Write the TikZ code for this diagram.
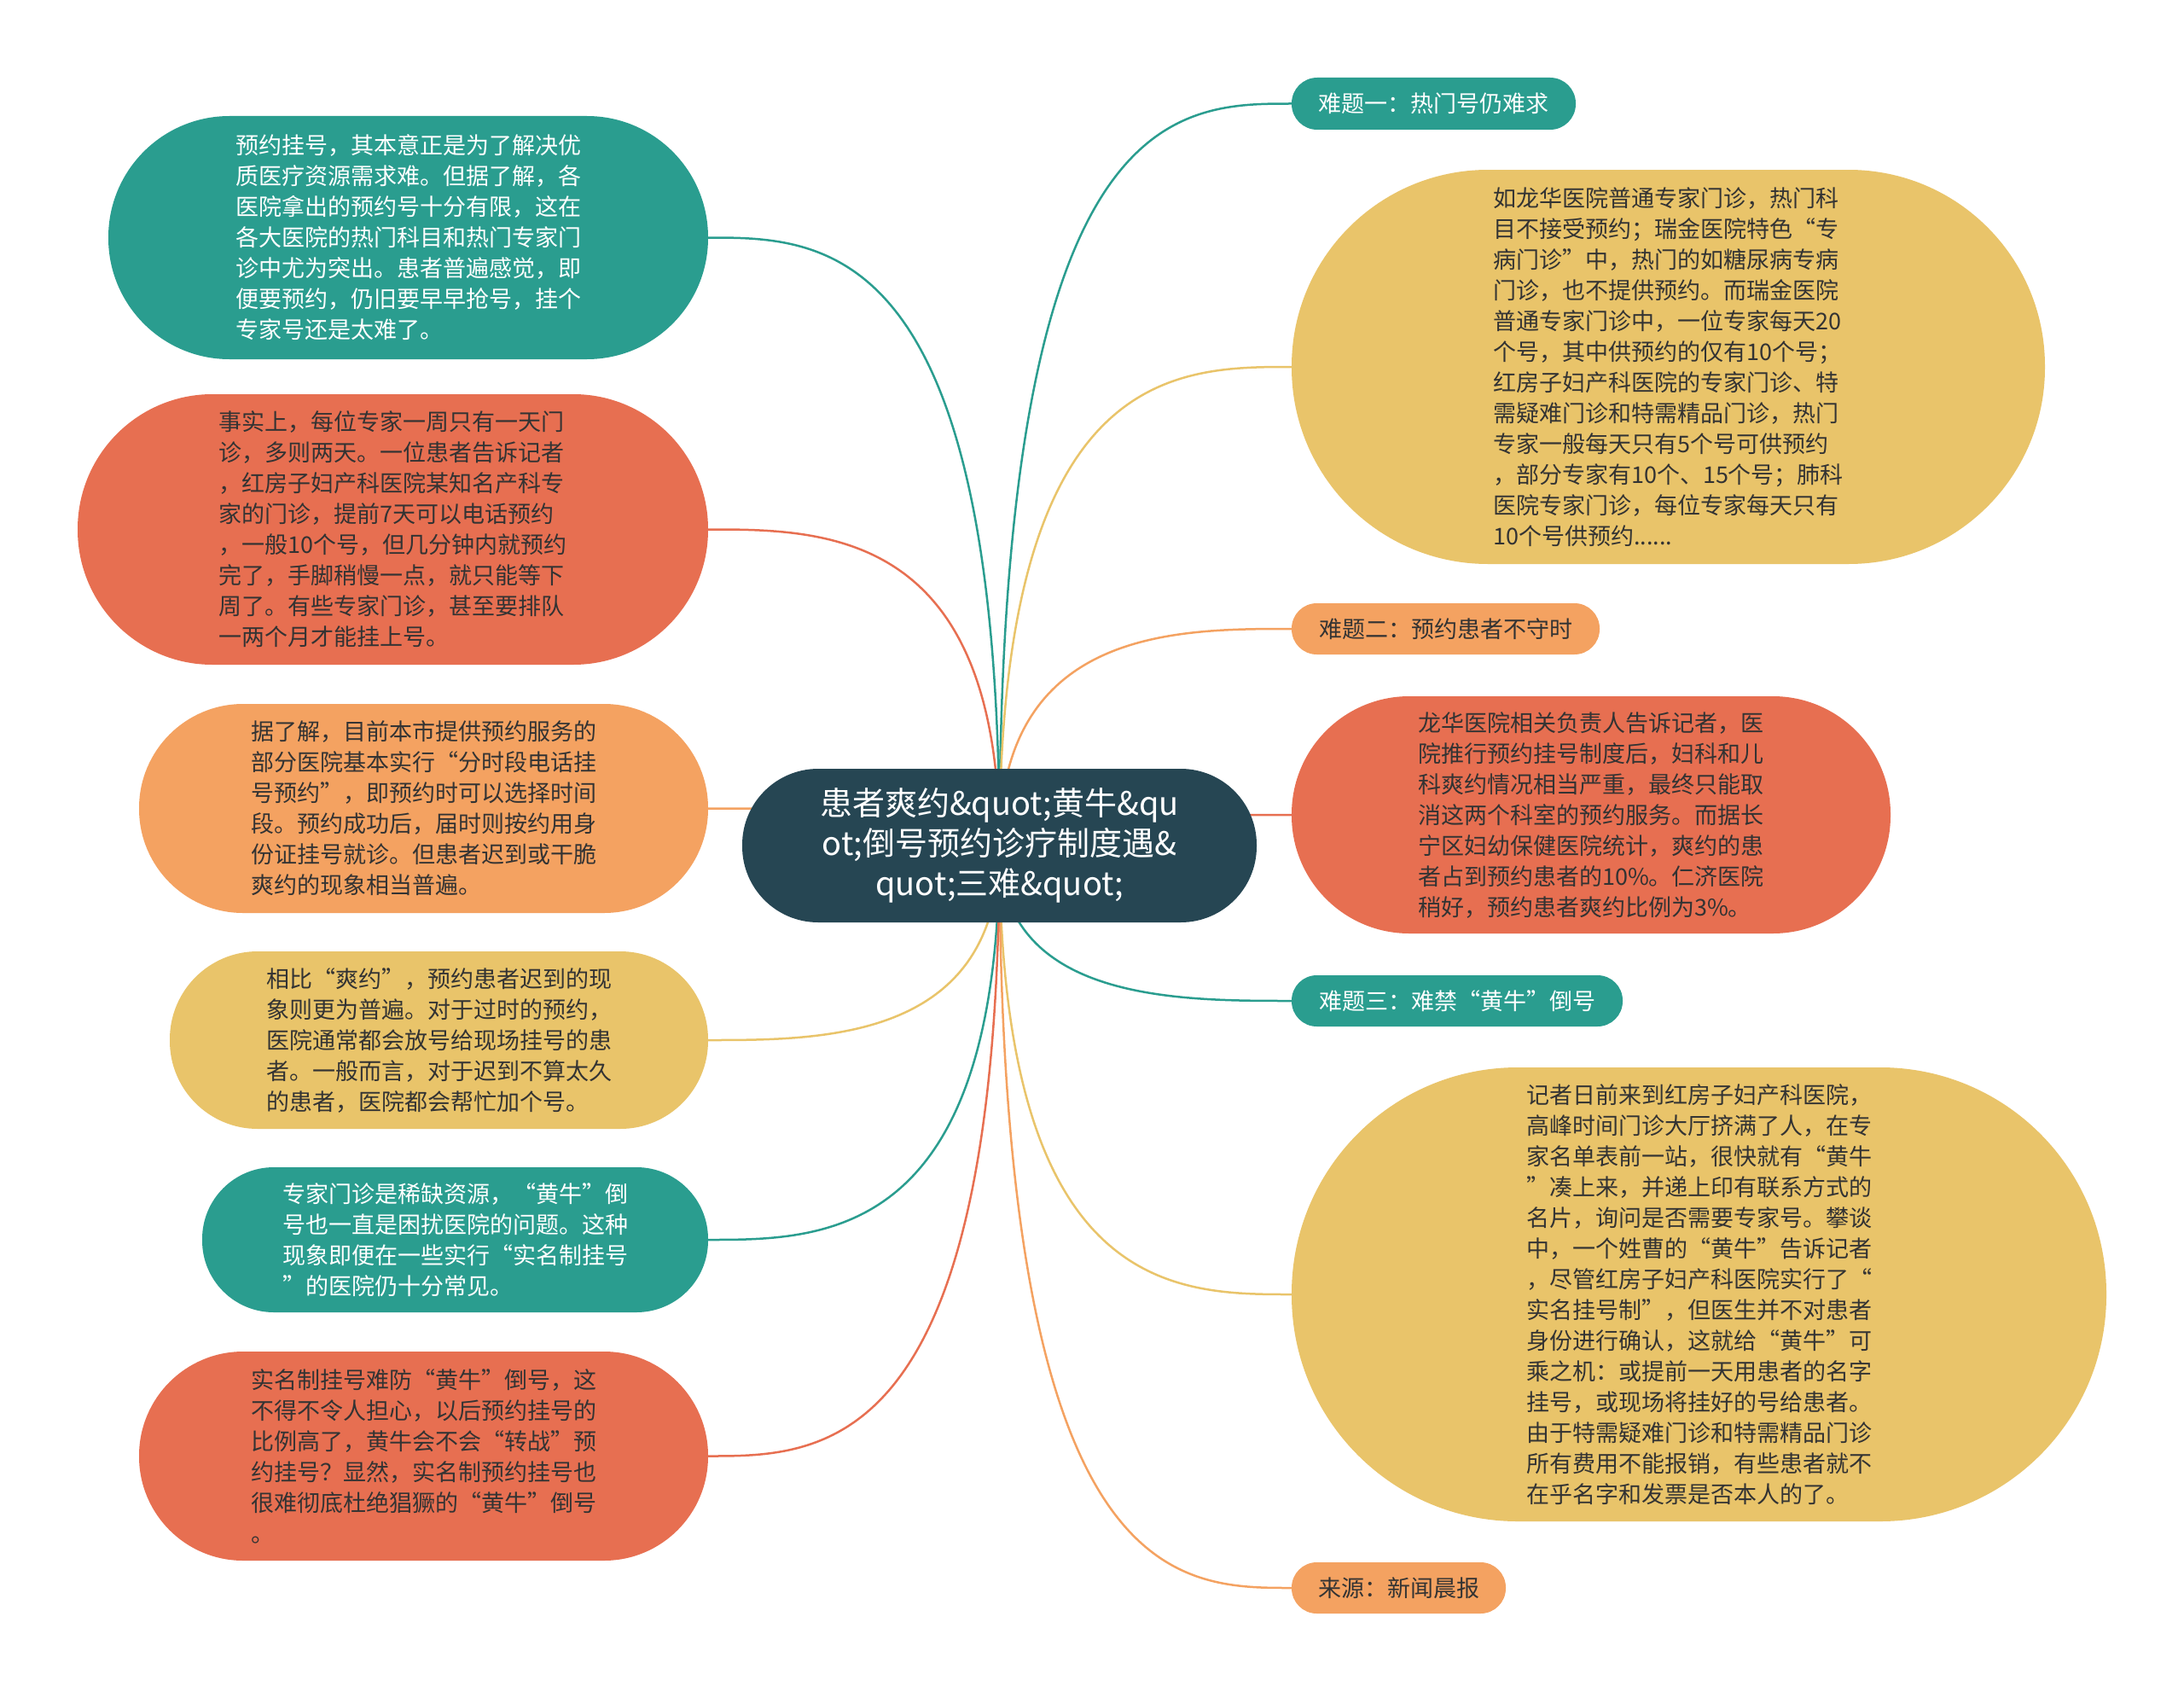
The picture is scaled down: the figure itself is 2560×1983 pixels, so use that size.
\documentclass[tikz,border=0pt]{standalone}
\usepackage{fontspec}
\setmainfont{Noto Sans CJK SC}
\usetikzlibrary{backgrounds,calc}
\definecolor{cteal}{HTML}{2A9D8F}
\definecolor{cyellow}{HTML}{E9C46A}
\definecolor{corange}{HTML}{F4A261}
\definecolor{cred}{HTML}{E76F51}
\definecolor{cdark}{HTML}{264653}
\definecolor{ctext}{HTML}{333333}
\newcommand{\linkto}[2]{\draw[link, #1] (C.center) .. controls (C.center |- #2) and ($(C.center |- #2)!0.6!(#2)$) .. (#2);}
\begin{document}
\begin{tikzpicture}[x=1pt,y=-1pt,
  box/.style={rectangle, inner sep=0pt, align=left, font=\fontsize{27}{36}\selectfont},
  tealbox/.style={box, fill=cteal, text=white},
  yellowbox/.style={box, fill=cyellow, text=ctext},
  orangebox/.style={box, fill=corange, text=ctext},
  redbox/.style={box, fill=cred, text=ctext},
  centerbox/.style={rectangle, inner sep=0pt, align=center, fill=cdark, text=white, font=\fontsize{38}{47}\selectfont},
  link/.style={line width=2.5pt}]
\useasboundingbox (0,0) rectangle (2560,1983);

% central topic
\node[centerbox, minimum width=603pt, minimum height=180pt, rounded corners=89pt] (C) at (1171.5,991)
 {患者爽约\&quot;黄牛\&qu\\ot;倒号预约诊疗制度遇\&\\quot;三难\&quot;};

% left side
\node[tealbox, minimum width=703pt, minimum height=285pt, rounded corners=142pt] (L1) at (478.5,278.5)
 {预约挂号，其本意正是为了解决优\\质医疗资源需求难。但据了解，各\\医院拿出的预约号十分有限，这在\\各大医院的热门科目和热门专家门\\诊中尤为突出。患者普遍感觉，即\\便要预约，仍旧要早早抢号，挂个\\专家号还是太难了。};
\node[redbox, minimum width=739pt, minimum height=317pt, rounded corners=158pt] (L2) at (460.5,620.5)
 {事实上，每位专家一周只有一天门\\诊，多则两天。一位患者告诉记者\\，红房子妇产科医院某知名产科专\\家的门诊，提前7天可以电话预约\\，一般10个号，但几分钟内就预约\\完了，手脚稍慢一点，就只能等下\\周了。有些专家门诊，甚至要排队\\一两个月才能挂上号。};
\node[orangebox, minimum width=667pt, minimum height=245pt, rounded corners=122pt] (L3) at (496.5,947.5)
 {据了解，目前本市提供预约服务的\\部分医院基本实行“分时段电话挂\\号预约”，即预约时可以选择时间\\段。预约成功后，届时则按约用身\\份证挂号就诊。但患者迟到或干脆\\爽约的现象相当普遍。};
\node[yellowbox, minimum width=631pt, minimum height=208pt, rounded corners=103pt] (L4) at (514.5,1219)
 {相比“爽约”，预约患者迟到的现\\象则更为普遍。对于过时的预约，\\医院通常都会放号给现场挂号的患\\者。一般而言，对于迟到不算太久\\的患者，医院都会帮忙加个号。};
\node[tealbox, minimum width=593pt, minimum height=170pt, rounded corners=84pt] (L5) at (533.5,1453)
 {专家门诊是稀缺资源，“黄牛”倒\\号也一直是困扰医院的问题。这种\\现象即便在一些实行“实名制挂号\\”的医院仍十分常见。};
\node[redbox, minimum width=667pt, minimum height=245pt, rounded corners=122pt] (L6) at (496.5,1706.5)
 {实名制挂号难防“黄牛”倒号，这\\不得不令人担心，以后预约挂号的\\比例高了，黄牛会不会“转战”预\\约挂号？显然，实名制预约挂号也\\很难彻底杜绝猖獗的“黄牛”倒号\\。};

% right side
\node[tealbox, minimum width=333pt, minimum height=61pt, rounded corners=30pt] (R1) at (1680.5,121.5)
 {难题一：热门号仍难求};
\node[yellowbox, minimum width=883pt, minimum height=462pt, rounded corners=230pt] (R2) at (1955.5,430)
 {如龙华医院普通专家门诊，热门科\\目不接受预约；瑞金医院特色“专\\病门诊”中，热门的如糖尿病专病\\门诊，也不提供预约。而瑞金医院\\普通专家门诊中，一位专家每天20\\个号，其中供预约的仅有10个号；\\红房子妇产科医院的专家门诊、特\\需疑难门诊和特需精品门诊，热门\\专家一般每天只有5个号可供预约\\，部分专家有10个、15个号；肺科\\医院专家门诊，每位专家每天只有\\10个号供预约......};
\node[orangebox, minimum width=361pt, minimum height=60pt, rounded corners=29.5pt] (R3) at (1694.5,737)
 {难题二：预约患者不守时};
\node[redbox, minimum width=702pt, minimum height=278pt, rounded corners=138pt] (R4) at (1865,955)
 {龙华医院相关负责人告诉记者，医\\院推行预约挂号制度后，妇科和儿\\科爽约情况相当严重，最终只能取\\消这两个科室的预约服务。而据长\\宁区妇幼保健医院统计，爽约的患\\者占到预约患者的10\%。仁济医院\\稍好，预约患者爽约比例为3\%。};
\node[tealbox, minimum width=388pt, minimum height=60pt, rounded corners=29.5pt] (R5) at (1708,1173)
 {难题三：难禁“黄牛”倒号};
\node[yellowbox, minimum width=955pt, minimum height=532pt, rounded corners=265pt] (R6) at (1991.5,1517)
 {记者日前来到红房子妇产科医院，\\高峰时间门诊大厅挤满了人，在专\\家名单表前一站，很快就有“黄牛\\”凑上来，并递上印有联系方式的\\名片，询问是否需要专家号。攀谈\\中，一个姓曹的“黄牛”告诉记者\\，尽管红房子妇产科医院实行了“\\实名挂号制”，但医生并不对患者\\身份进行确认，这就给“黄牛”可\\乘之机：或提前一天用患者的名字\\挂号，或现场将挂好的号给患者。\\由于特需疑难门诊和特需精品门诊\\所有费用不能报销，有些患者就不\\在乎名字和发票是否本人的了。};
\node[orangebox, minimum width=251pt, minimum height=60pt, rounded corners=29.5pt] (R7) at (1639.5,1861)
 {来源：新闻晨报};

% connectors
\begin{scope}[on background layer]
\fill[white] (0,0) rectangle (2560,1983);
\linkto{cteal}{R1.west}
\linkto{cyellow}{R2.west}
\linkto{corange}{R3.west}
\linkto{cred}{R4.west}
\linkto{cteal}{R5.west}
\linkto{cyellow}{R6.west}
\linkto{corange}{R7.west}
\linkto{cteal}{L1.east}
\linkto{cred}{L2.east}
\linkto{corange}{L3.east}
\linkto{cyellow}{L4.east}
\linkto{cteal}{L5.east}
\linkto{cred}{L6.east}
\end{scope}
\end{tikzpicture}
\end{document}
